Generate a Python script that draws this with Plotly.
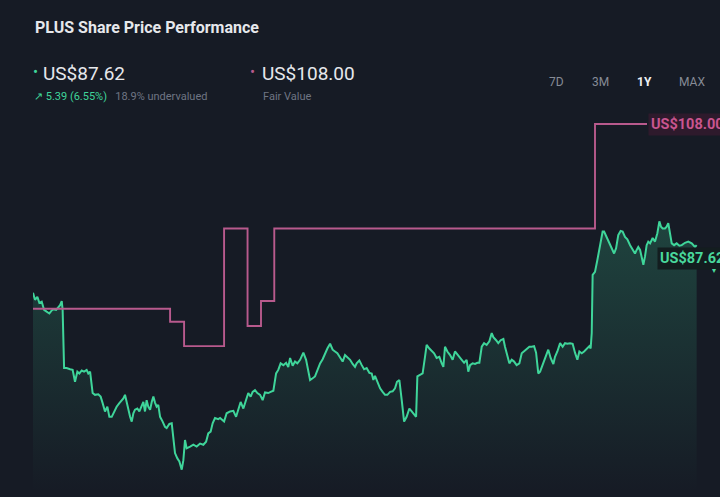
import plotly.graph_objects as go

# ---- data ----
price_days = [0, 1.1, 2.4, 3.5, 4.8, 6.1, 7.5, 9.0, 10.3, 11.2, 12.7, 13.9, 14.9, 15.8, 16.3, 17.1, 18.5, 20.4, 21.8, 23.1,
              24.4, 25.5, 26.8, 28.1, 29.5, 30.4, 31.4, 32.8, 34.1, 35.9, 37.2, 38.3, 39.6, 40.9, 42.0, 43.3, 44.6, 46.0, 47.5, 48.8,
              49.7, 50.6, 51.5, 52.4, 53.4, 54.3, 55.2, 56.1, 57.4, 58.5, 59.8, 60.7, 61.6, 62.5, 63.4, 64.4, 65.3, 66.2, 67.1, 68.0,
              68.9, 69.9, 71.3, 72.6, 73.5, 75.0, 76.3, 77.2, 78.1, 79.4, 80.5, 81.8, 82.7, 83.6, 84.5, 86.4, 88.2, 90.0, 91.9, 93.7,
              95.2, 96.4, 97.7, 98.8, 100.1, 101.9, 102.9, 105.1, 106.5, 108.4, 110.2, 111.7, 112.9, 114.2, 115.7, 117.2, 118.4, 119.7, 120.8, 122.1,
              123.4, 124.9, 126.3, 127.6, 129.4, 130.7, 132.2, 133.7, 134.9, 136.2, 137.7, 139.2, 140.4, 141.4, 142.8, 144.1, 145.4, 146.9, 147.8, 148.7,
              150.2, 151.4, 152.4, 153.8, 155.1, 156.4, 157.9, 159.3, 160.6, 161.9, 163.4, 164.8, 166.1, 167.4, 168.9, 170.3, 171.6, 172.9, 174.4, 175.8,
              177.1, 178.0, 179.5, 180.8, 182.1, 183.5, 185.0, 186.3, 187.2, 188.1, 189.4, 190.9, 192.3, 193.6, 194.9, 196.4, 197.8, 199.1, 200.2, 201.5,
              202.8, 204.1, 205.5, 207.0, 208.3, 209.6, 210.7, 211.4, 212.9, 214.3, 215.6, 216.5, 218.0, 219.3, 220.6, 222.0, 223.5, 224.8, 225.7, 226.6,
              227.9, 229.4, 230.8, 232.1, 233.0, 234.5, 235.8, 237.1, 238.5, 239.4, 240.4, 241.8, 243.1, 244.4, 245.5, 246.8, 248.1, 249.5, 251.0, 252.3,
              253.2, 254.7, 255.9, 257.2, 258.7, 259.6, 260.5, 262.0, 263.3, 264.6, 266.0, 267.5, 268.8, 270.1, 271.5, 273.0, 274.3, 275.6, 276.7, 277.9,
              278.9, 279.8, 281.1, 282.2, 283.4, 284.7, 286.2, 287.1, 288.4, 289.9, 291.3, 292.6, 293.9, 295.4, 296.8, 298.1, 299.4, 300.5, 301.8, 303.1,
              304.5, 306.0, 306.7, 307.3, 307.8, 309.1, 310.4, 311.9, 313.3, 314.1, 315.5, 317.0, 318.3, 319.6, 320.7, 321.9, 323.2, 324.3, 325.6, 326.9,
              328.4, 329.8, 331.1, 332.0, 332.9, 333.9, 334.8, 335.7, 336.6, 337.5, 338.4, 339.4, 340.8, 342.1, 343.4, 344.5, 345.4, 346.3, 347.6, 348.5,
              349.4, 350.4, 351.3, 352.6, 354.0, 355.5, 356.8, 358.6, 360.4, 362.3, 364.1, 365.0]

price_vals = [79.6, 78.4, 78.9, 77.9, 78.1, 76.7, 76.4, 76.1, 76.6, 76.8, 76.7, 77.2, 77.5, 78.2, 76.7, 66.9, 66.9, 66.7, 66.6, 64.6,
              66.3, 66.0, 66.5, 66.3, 66.6, 66.0, 66.3, 62.7, 62.4, 62.5, 62.1, 61.0, 59.6, 60.4, 58.7, 58.7, 59.6, 60.4, 61.0, 61.5,
              61.8, 62.4, 61.0, 59.9, 58.7, 57.9, 59.3, 59.9, 60.1, 59.6, 60.4, 61.2, 59.6, 61.5, 60.4, 59.9, 61.2, 62.1, 61.1, 60.4,
              60.7, 58.7, 57.9, 57.0, 56.8, 57.5, 57.6, 54.8, 52.6, 51.7, 51.2, 49.8, 51.4, 54.8, 53.4, 53.7, 54.0, 53.7, 54.2, 54.0,
              54.5, 55.9, 56.2, 57.6, 58.5, 58.3, 58.5, 57.9, 59.3, 59.6, 59.7, 58.7, 60.1, 61.2, 60.1, 61.5, 62.7, 62.1, 62.9, 63.2,
              62.7, 62.4, 61.5, 62.8, 62.7, 62.9, 63.1, 66.0, 66.6, 67.7, 67.4, 67.8, 67.1, 68.6, 67.3, 68.0, 67.7, 68.3, 68.8, 69.5,
              68.3, 66.3, 64.9, 65.2, 65.5, 66.5, 67.7, 68.4, 69.4, 70.2, 71.0, 70.0, 69.7, 69.4, 68.7, 68.0, 69.1, 68.8, 68.3, 67.6,
              67.1, 67.7, 68.2, 67.4, 66.7, 66.9, 66.1, 66.0, 64.9, 65.6, 64.6, 63.5, 62.9, 62.4, 62.4, 62.9, 63.0, 63.5, 64.6, 64.9,
              61.5, 57.9, 58.7, 60.1, 59.6, 59.0, 58.7, 65.5, 65.7, 66.0, 68.8, 70.8, 70.2, 69.8, 69.4, 68.6, 68.8, 67.7, 67.1, 70.5,
              69.7, 69.1, 68.3, 69.7, 69.4, 68.8, 68.3, 67.8, 68.3, 66.3, 67.4, 67.7, 67.6, 67.8, 67.8, 70.5, 71.1, 70.8, 71.4, 72.8,
              72.1, 71.6, 71.1, 71.6, 71.8, 70.5, 69.4, 67.7, 68.3, 68.0, 67.4, 67.7, 69.4, 69.7, 70.0, 70.5, 70.5, 70.6, 69.5, 66.0,
              66.3, 67.1, 68.3, 69.1, 70.0, 68.6, 67.6, 68.8, 69.7, 71.1, 70.5, 71.1, 71.0, 71.1, 71.0, 69.5, 68.3, 69.7, 69.4, 69.7,
              70.1, 70.6, 70.2, 72.8, 82.6, 83.1, 85.1, 87.9, 89.9, 89.9, 89.0, 87.9, 87.1, 86.2, 87.1, 89.3, 90.0, 89.9, 89.0, 88.6,
              87.6, 86.8, 86.2, 86.8, 87.3, 86.8, 85.7, 84.3, 85.7, 87.6, 88.2, 87.9, 88.8, 88.2, 89.6, 91.6, 90.7, 90.4, 90.4, 90.7,
              91.3, 89.6, 87.9, 87.6, 87.9, 87.5, 87.6, 88.0, 88.2, 87.9, 87.3, 87.62]

fair_days = [0, 75.4, 83.1, 105.1, 118.0, 125.4, 132.7, 309.1, 337.7]
fair_vals = [76.9, 74.7, 70.6, 90.4, 74.0, 78.2, 90.4, 108.0, 108.0]

last_price = 87.62
fair_value = 108.00
change_abs = 5.39
change_pct = 6.55
undervalued_pct = 18.9
range_buttons = ["7D", "3M", "1Y", "MAX"]
active_button = "1Y"

# ---- styling ----
BG = "#161b25"
GREEN = "#3fd59a"
PINK = "#b85a8d"
FONT = "Roboto"
W, H = 720, 497
ML, MR, MT, MB = 33, 0, 100, 7


def px(x):
    return (x - ML) / (W - ML - MR)


def py(y):
    return (H - MB - y) / (H - MT - MB)


fig = go.Figure()

fig.add_trace(go.Scatter(
    x=price_days, y=price_vals, mode="lines",
    line=dict(color=GREEN, width=2),
    fill="tozeroy",
    fillgradient=dict(type="vertical", start=46, stop=92,
                      colorscale=[[0, "rgba(63,213,154,0.0)"], [1, "rgba(63,213,154,0.22)"]]),
    hoverinfo="skip", showlegend=False,
))

fig.add_trace(go.Scatter(
    x=fair_days, y=fair_vals, mode="lines", line_shape="hv",
    line=dict(color=PINK, width=1.9),
    hoverinfo="skip", showlegend=False,
))

ann = []
# title
ann.append(dict(text="<b>PLUS Share Price Performance</b>", x=px(33), y=py(27), xanchor="left", yanchor="middle",
                font=dict(family=FONT, size=16, color="#e6e8ec")))
# price header
ann.append(dict(text="•", x=px(31), y=py(72), xanchor="left", yanchor="middle",
                font=dict(family=FONT, size=15, color=GREEN)))
ann.append(dict(text=f"US${last_price:.2f}", x=px(41), y=py(73), xanchor="left", yanchor="middle",
                font=dict(family=FONT, size=19, color="#e6e8ec")))
ann.append(dict(text=f"<span style='color:{GREEN}'>↗ {change_abs:.2f} ({change_pct:.2f}%)</span>   "
                     f"<span style='color:#6f7583'>{undervalued_pct}% undervalued</span>",
                x=px(32), y=py(96), xanchor="left", yanchor="middle",
                font=dict(family=FONT, size=11, color="#6f7583")))
# fair value header
ann.append(dict(text="•", x=px(248), y=py(72), xanchor="left", yanchor="middle",
                font=dict(family=FONT, size=15, color=PINK)))
ann.append(dict(text=f"US${fair_value:.2f}", x=px(260), y=py(73), xanchor="left", yanchor="middle",
                font=dict(family=FONT, size=19, color="#e6e8ec")))
ann.append(dict(text="Fair Value", x=px(261), y=py(96), xanchor="left", yanchor="middle",
                font=dict(family=FONT, size=11, color="#6f7583")))
# range buttons
for label, cx in zip(range_buttons, [556, 600, 644, 692]):
    active = label == active_button
    ann.append(dict(text=f"<b>{label}</b>" if active else label, x=px(cx), y=py(82),
                    xanchor="center", yanchor="middle",
                    font=dict(family=FONT, size=12, color="#eef0f3" if active else "#868b96")))

# fair value end label
ann.append(dict(text=f"<b>US${fair_value:.2f}</b>", x=fair_days[-1], y=fair_value, xref="x", yref="y",
                xanchor="left", yanchor="middle", xshift=1, showarrow=False,
                bgcolor="#2e1a2c", borderpad=2,
                font=dict(family=FONT, size=14.5, color="#c9558f")))
# last price label
ann.append(dict(text=f"<b>US${last_price:.2f}</b>", x=price_days[-1], y=last_price, xref="x", yref="y",
                xanchor="left", yanchor="middle", xshift=-40, yshift=-13, showarrow=False,
                bgcolor="#131d1f", borderpad=2,
                font=dict(family=FONT, size=14.5, color="#49d89c")))
ann.append(dict(text="▾", x=price_days[-1], y=last_price, xref="x", yref="y",
                xanchor="center", yanchor="middle", xshift=17, yshift=-25, showarrow=False,
                font=dict(family=FONT, size=8, color="#49d89c")))

for a in ann:
    a.setdefault("xref", "paper")
    a.setdefault("yref", "paper")
    a.setdefault("showarrow", False)

fig.update_layout(
    width=W, height=H,
    margin=dict(l=ML, r=MR, t=MT, b=MB),
    paper_bgcolor=BG, plot_bgcolor=BG,
    xaxis=dict(range=[0, 377.85], visible=False, fixedrange=True),
    yaxis=dict(range=[46.38, 112.04], visible=False, fixedrange=True),
    annotations=ann,
    showlegend=False,
)

fig.write_html(
    "out.html",
    config={"displayModeBar": False},
    post_script=(
        "document.body.style.margin='0';document.body.style.padding='0';"
        "document.body.style.overflow='hidden';document.body.style.background='" + BG + "';"
    ),
)
